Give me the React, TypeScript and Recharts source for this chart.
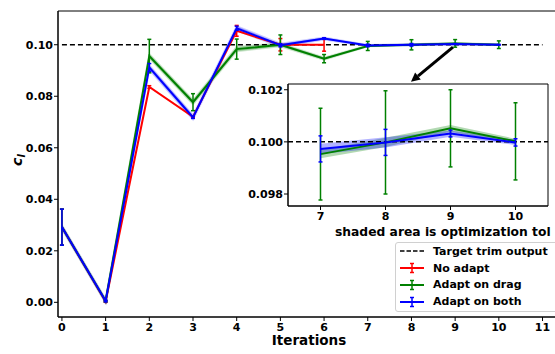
import {
  ComposedChart,
  Line,
  Area,
  XAxis,
  YAxis,
  ErrorBar,
  ReferenceLine,
  ReferenceArea,
  Legend,
} from 'recharts';

const iterations = [0, 1, 2, 3, 4, 5, 6, 7, 8, 9, 10];
const xTicks = [0, 1, 2, 3, 4, 5, 6, 7, 8, 9, 10, 11];
const yTicks = [0, 0.02, 0.04, 0.06, 0.08, 0.1];
const insetXTicks = [7, 8, 9, 10];
const insetYTicks = [0.098, 0.1, 0.102];

// No adapt only runs until iteration 6
const noAdapt = [0.0292, 0.0003, 0.0836, 0.072, 0.1054, 0.1, 0.1];
const noAdaptErr = [0.007, 0.0003, 0.0005, 0.0003, 0.0021, 0.0024, 0.0025];

const adaptDrag = [0.0292, 0.0005, 0.0956, 0.0777, 0.0983, 0.1, 0.0946, 0.09953, 0.09998, 0.10052, 0.10002];
const adaptDragErr = [0.007, 0.0003, 0.0065, 0.0033, 0.0039, 0.0038, 0.0016, 0.00176, 0.00198, 0.00148, 0.00148];
const adaptDragTol = [0.0006, 0.0006, 0.0008, 0.0008, 0.0008, 0.0006, 0.0004, 0.00016, 0.00018, 0.00013, 0.0001];

const adaptBoth = [0.0292, 0.0005, 0.0912, 0.0718, 0.1064, 0.0998, 0.1024, 0.09973, 0.09998, 0.10032, 0.09998];
const adaptBothErr = [0.007, 0.0003, 0.0015, 0.0004, 0.0008, 0.0006, 0.0003, 0.0005, 0.0005, 0.00013, 0.00014];
const adaptBothTol = [0.0006, 0.0006, 0.0008, 0.0008, 0.0008, 0.0006, 0.0004, 0.0002, 0.0002, 0.00012, 0.0001];

const target = 0.1;
const arrowFrom = { x: 8.95, y: 0.0991 };
const arrowTo = { x: 7.99, y: 0.0856 };

const FONT = '"DejaVu Sans", sans-serif';
const RED = '#ff0000';
const GREEN = '#008000';
const BLUE = '#0000ff';

const data = iterations.map((it, i) => ({
  it,
  noAdapt: noAdapt[i],
  noAdaptErr: noAdaptErr[i],
  drag: adaptDrag[i],
  dragErr: adaptDragErr[i],
  dragBand: [adaptDrag[i] - adaptDragTol[i], adaptDrag[i] + adaptDragTol[i]],
  both: adaptBoth[i],
  bothErr: adaptBothErr[i],
  bothBand: [adaptBoth[i] - adaptBothTol[i], adaptBoth[i] + adaptBothTol[i]],
}));
const insetData = data.filter((d) => d.it >= 7);

const X_DOMAIN: [number, number] = [-0.09, 11.4];
const Y_DOMAIN: [number, number] = [-0.0057, 0.1131];
const INSET_X: [number, number] = [6.5, 10.5];
const INSET_Y: [number, number] = [0.09754, 0.10222];

// custom tick text so the bold weight is applied for sure
const xTick = (p: any) => (
  <text x={p.x} y={p.y} dy="0.71em" textAnchor="middle" fontFamily={FONT} fontWeight={700} fontSize={11} fill="#000">
    {p.payload.value}
  </text>
);
const yTick = (digits: number) => (p: any) => (
  <text x={p.x} y={p.y} dy="0.355em" textAnchor="end" fontFamily={FONT} fontWeight={700} fontSize={11} fill="#000">
    {Number(p.payload.value).toFixed(digits)}
  </text>
);

function Arrow(p: any) {
  const { x1, y1, x2, y2 } = p;
  const ang = Math.atan2(y2 - y1, x2 - x1);
  const len = 9;
  const w = 4.5;
  const bx = x2 - len * Math.cos(ang);
  const by = y2 - len * Math.sin(ang);
  const pts = `${x2},${y2} ${bx + w * Math.sin(ang)},${by - w * Math.cos(ang)} ${bx - w * Math.sin(ang)},${by + w * Math.cos(ang)}`;
  return (
    <g>
      <line x1={x1} y1={y1} x2={bx} y2={by} stroke="#000" strokeWidth={3} />
      <polygon points={pts} fill="#000" />
    </g>
  );
}

function CLabel({ viewBox }: any) {
  const x = viewBox.x + 12;
  const y = viewBox.y + viewBox.height / 2 - 4;
  return (
    <text
      x={x}
      y={y}
      transform={`rotate(-90, ${x}, ${y})`}
      textAnchor="middle"
      fontFamily={FONT}
      fontWeight={700}
      fontSize={14}
      fill="#000"
    >
      <tspan fontStyle="italic">c</tspan>
      <tspan fontStyle="italic" fontSize={10} dy={3}>l</tspan>
    </text>
  );
}

function XLabel({ viewBox }: any) {
  const x = viewBox.x + viewBox.width / 2;
  return (
    <text x={x} y={345} textAnchor="middle" fontFamily={FONT} fontWeight={700} fontSize={13.5} fill="#000">
      Iterations
    </text>
  );
}

function ErrHandle({ color }: { color: string }) {
  return (
    <svg width={24} height={14}>
      <line x1={0} y1={7} x2={24} y2={7} stroke={color} strokeWidth={2} />
      <line x1={12} y1={2.5} x2={12} y2={11.5} stroke={color} strokeWidth={1.5} />
      <line x1={10} y1={2.5} x2={14} y2={2.5} stroke={color} strokeWidth={1.5} />
      <line x1={10} y1={11.5} x2={14} y2={11.5} stroke={color} strokeWidth={1.5} />
    </svg>
  );
}

const legendRows = [
  { label: 'Target trim output', color: '#000', dashed: true },
  { label: 'No adapt', color: RED, dashed: false },
  { label: 'Adapt on drag', color: GREEN, dashed: false },
  { label: 'Adapt on both', color: BLUE, dashed: false },
];

function LegendBox() {
  return (
    <div style={{ position: 'relative', width: 240, height: 95, fontFamily: FONT, fontWeight: 700, fontSize: 11, color: '#000' }}>
      <div style={{ position: 'absolute', left: 5, top: 3, fontSize: 12.3, lineHeight: '15px', whiteSpace: 'nowrap' }}>
        shaded area is optimization tol
      </div>
      <div
        style={{
          position: 'absolute',
          left: 65,
          top: 20,
          width: 200,
          height: 70,
          border: '1px solid #d0d0d0',
          borderRadius: 3,
          background: 'rgba(255,255,255,0.8)',
          boxSizing: 'border-box',
        }}
      >
        {legendRows.map((r) => (
          <div key={r.label} style={{ display: 'flex', alignItems: 'center', height: 16.8, paddingLeft: 4, whiteSpace: 'nowrap' }}>
            {r.dashed ? (
              <svg width={24} height={14}>
                <line x1={0} y1={7} x2={24} y2={7} stroke="#000" strokeWidth={1.5} strokeDasharray="4.5 2" />
              </svg>
            ) : (
              <ErrHandle color={r.color} />
            )}
            <span style={{ marginLeft: 9 }}>{r.label}</span>
          </div>
        ))}
      </div>
    </div>
  );
}

export default function App() {
  return (
    <div style={{ position: 'relative', width: 555, height: 354, overflow: 'hidden', background: '#fff' }}>
      <style>{'body{margin:0;overflow:hidden}'}</style>
      <ComposedChart width={560} height={354} data={data} margin={{ top: 11, right: 0, left: 10, bottom: 0 }}>
        <XAxis
          dataKey="it"
          type="number"
          domain={X_DOMAIN}
          allowDataOverflow
          ticks={xTicks}
          interval={0}
          height={37}
          tickSize={4}
          tickMargin={2}
          tick={xTick}
          axisLine={{ stroke: '#000' }}
          tickLine={{ stroke: '#000' }}
          label={<XLabel />}
        />
        <YAxis
          type="number"
          domain={Y_DOMAIN}
          allowDataOverflow
          ticks={yTicks}
          interval={0}
          width={48}
          tickSize={4}
          tickMargin={1}
          tick={yTick(2)}
          axisLine={{ stroke: '#000' }}
          tickLine={{ stroke: '#000' }}
          label={<CLabel />}
        />
        <ReferenceArea x1={X_DOMAIN[0]} x2={X_DOMAIN[1]} y1={Y_DOMAIN[0]} y2={Y_DOMAIN[1]} fill="none" stroke="#000" strokeWidth={1} />
        <ReferenceLine
          segment={[{ x: 0, y: target }, { x: 11, y: target }]}
          stroke="#000"
          strokeWidth={1.5}
          strokeDasharray="5 3"
        />
        <Area dataKey="dragBand" type="linear" stroke={GREEN} strokeOpacity={0.2} strokeWidth={2} fill={GREEN} fillOpacity={0.3} isAnimationActive={false} />
        <Area dataKey="bothBand" type="linear" stroke={BLUE} strokeOpacity={0.2} strokeWidth={2} fill={BLUE} fillOpacity={0.3} isAnimationActive={false} />
        <Line dataKey="noAdapt" stroke={RED} strokeWidth={2} dot={false} isAnimationActive={false}>
          <ErrorBar dataKey="noAdaptErr" direction="y" stroke={RED} strokeWidth={1.5} width={2} />
        </Line>
        <Line dataKey="drag" stroke={GREEN} strokeWidth={2} dot={false} isAnimationActive={false}>
          <ErrorBar dataKey="dragErr" direction="y" stroke={GREEN} strokeWidth={1.5} width={2} />
        </Line>
        <Line dataKey="both" stroke={BLUE} strokeWidth={2} dot={false} isAnimationActive={false}>
          <ErrorBar dataKey="bothErr" direction="y" stroke={BLUE} strokeWidth={1.5} width={2} />
        </Line>
        <ReferenceLine segment={[arrowFrom, arrowTo]} shape={Arrow} ifOverflow="visible" />
        <Legend
          layout="horizontal"
          verticalAlign="middle"
          align="center"
          content={() => <LegendBox />}
          wrapperStyle={{ left: 330, top: 222, width: 240, height: 95 }}
        />
      </ComposedChart>

      <div style={{ position: 'absolute', left: 240, top: 80 }}>
        <ComposedChart width={310} height={146} data={insetData} margin={{ top: 4, right: 2, left: 0, bottom: 0 }}>
          <XAxis
            dataKey="it"
            type="number"
            domain={INSET_X}
            allowDataOverflow
            ticks={insetXTicks}
            interval={0}
            height={20}
            tickSize={4}
            tickMargin={2}
            tick={xTick}
            axisLine={{ stroke: '#000' }}
            tickLine={{ stroke: '#000' }}
          />
          <YAxis
            type="number"
            domain={INSET_Y}
            allowDataOverflow
            ticks={insetYTicks}
            interval={0}
            width={48}
            tickSize={4}
            tickMargin={1}
            tick={yTick(3)}
            axisLine={{ stroke: '#000' }}
            tickLine={{ stroke: '#000' }}
          />
          <ReferenceArea x1={INSET_X[0]} x2={INSET_X[1]} y1={INSET_Y[0]} y2={INSET_Y[1]} fill="#fff" stroke="#000" strokeWidth={1} />
          <ReferenceLine y={target} stroke="#000" strokeWidth={1.5} strokeDasharray="5 3" />
          <Area dataKey="dragBand" type="linear" stroke="none" fill={GREEN} fillOpacity={0.3} isAnimationActive={false} />
          <Area dataKey="bothBand" type="linear" stroke="none" fill={BLUE} fillOpacity={0.3} isAnimationActive={false} />
          <Line dataKey="drag" stroke={GREEN} strokeWidth={2} dot={false} isAnimationActive={false}>
            <ErrorBar dataKey="dragErr" direction="y" stroke={GREEN} strokeWidth={1.5} width={2} />
          </Line>
          <Line dataKey="both" stroke={BLUE} strokeWidth={2} dot={false} isAnimationActive={false}>
            <ErrorBar dataKey="bothErr" direction="y" stroke={BLUE} strokeWidth={1.5} width={2} />
          </Line>
        </ComposedChart>
      </div>
    </div>
  );
}
